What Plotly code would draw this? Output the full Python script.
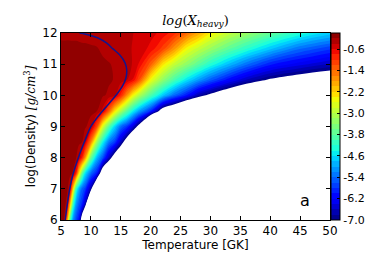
import plotly.graph_objects as go

# ---------------- data ----------------
temperature = [5, 5.5, 6, 6.5, 7, 7.5, 8, 8.5, 9, 10, 11, 12, 13, 14, 15, 16, 17, 18,
               20, 22, 24, 26, 28, 30, 33, 36, 40, 45, 50]
log_density = [6.0, 6.5, 7.0, 7.5, 8.0, 8.5, 9.0, 9.5, 10.0, 10.5, 11.0, 11.5, 12.0]

row_6_0 = [-0.02, -0.18, -1.6, -3.91, -5.11, -5.66, -6.1, -7.6, -9.1,
           -12, -12, -12, -12, -12, -12, -12, -12, -12, -12, -12, -12, -12, -12, -12, -12, -12, -12, -12, -12]
row_6_5 = [-0.02, -0.12, -0.28, -1.95, -4.04, -5.05, -5.54, -5.89, -6.61,
           -9.19, -11.75, -12, -12, -12, -12, -12, -12, -12, -12, -12, -12, -12, -12, -12, -12, -12, -12, -12, -12]
row_7_0 = [-0.02, -0.09, -0.15, -0.35, -2.13, -4.07, -4.91, -5.41, -5.7,
           -6.78, -9.03, -11.28, -12, -12, -12, -12, -12, -12, -12, -12, -12, -12, -12, -12, -12, -12, -12, -12, -12]
row_7_5 = [-0.02, -0.07, -0.11, -0.16, -0.21, -0.81, -2.26, -3.59, -4.5,
           -5.41, -5.99, -7.9, -8.6, -12, -12, -12, -12, -12, -12, -12, -12, -12, -12, -12, -12, -12, -12, -12, -12]
row_8_0 = [-0.02, -0.05, -0.08, -0.12, -0.15, -0.18, -0.33, -0.81, -1.64,
           -3.65, -4.85, -5.59, -6.6, -7.54, -8.27, -10.0, -12, -12, -12, -12, -12, -12, -12, -12, -12, -12, -12, -12, -12]
row_8_5 = [-0.02, -0.04, -0.07, -0.09, -0.12, -0.14, -0.17, -0.19, -0.35,
           -1.56, -3.22, -4.41, -5.31, -5.74, -6.61, -7.49, -8.52, -10.9, -12, -12, -12, -12, -12, -12, -12, -12, -12, -12, -12]
row_9_0 = [-0.02, -0.04, -0.06, -0.08, -0.1, -0.11, -0.13, -0.15, -0.17,
           -0.28, -1.15, -2.71, -3.77, -4.65, -5.38, -5.78, -6.41, -7.25, -10.25, -12, -12, -12, -12, -12, -12, -12, -12, -12, -12]
row_9_5 = [-0.02, -0.03, -0.05, -0.06, -0.08, -0.09, -0.11, -0.12, -0.13,
           -0.16, -0.19, -0.47, -1.32, -2.32, -3.08, -3.76, -4.41, -4.96, -5.86, -7.5, -8.13, -9.1, -9.34, -12, -12, -12, -12, -12, -12]
row_10_0 = [-0.02, -0.03, -0.04, -0.06, -0.07, -0.08, -0.09, -0.1, -0.11,
            -0.14, -0.16, -0.18, -0.23, -0.36, -0.87, -1.67, -2.45, -3.01, -3.91, -4.71, -5.44, -6.01, -6.74, -7.17, -7.71, -8.11, -10.0, -11.0, -12.0]
row_10_5 = [-0.02, -0.03, -0.04, -0.05, -0.06, -0.07, -0.08, -0.09, -0.1,
            -0.12, -0.14, -0.16, -0.18, -0.21, -0.28, -0.37, -0.61, -1.14, -2.53, -3.31, -3.95, -4.53, -5.04, -5.5, -6.1, -6.61, -7.07, -7.38, -7.57]
row_11_0 = [-0.03, -0.04, -0.05, -0.06, -0.07, -0.08, -0.09, -0.1, -0.11,
            -0.13, -0.15, -0.17, -0.19, -0.22, -0.28, -0.34, -0.41, -0.61, -1.31, -2.32, -2.91, -3.33, -3.78, -4.24, -4.81, -5.35, -5.95, -6.32, -6.62]
row_11_5 = [-0.12, -0.13, -0.13, -0.14, -0.15, -0.15, -0.16, -0.17, -0.17,
            -0.18, -0.19, -0.23, -0.26, -0.3, -0.33, -0.36, -0.41, -0.47, -0.66, -1.07, -1.75, -2.49, -2.89, -3.24, -3.73, -4.18, -4.75, -5.38, -5.75]
row_12_0 = [-0.27, -0.265, -0.26, -0.255, -0.25, -0.25, -0.25, -0.25, -0.255,
            -0.26, -0.27, -0.28, -0.3, -0.32, -0.345, -0.37, -0.395, -0.44, -0.53, -0.67, -0.93, -1.38, -1.88, -2.41, -2.88, -3.25, -3.72, -4.26, -4.7]

log_x_heavy = [row_6_0, row_6_5, row_7_0, row_7_5, row_8_0, row_8_5, row_9_0, row_9_5,
               row_10_0, row_10_5, row_11_0, row_11_5, row_12_0]

# blue boundary curve
curve_temperature = [5.7, 6.05, 6.45, 7.05, 7.9, 8.9, 10.0, 11.7, 14.2, 15.3, 15.85, 16.0,
                     15.7, 14.8, 13.7, 12.6, 11.2, 9.8, 8.1]
curve_density = [6.0, 6.5, 7.0, 7.5, 8.0, 8.5, 9.0, 9.44, 10.0, 10.3, 10.55, 10.8,
                 11.05, 11.3, 11.49, 11.68, 11.84, 11.93, 12.0]

level_start, level_end, level_step = -7.0, 0.0, 0.2
colorbar_ticks = [-7.0, -6.2, -5.4, -4.6, -3.8, -3.0, -2.2, -1.4, -0.6]
x_ticks = [5, 10, 15, 20, 25, 30, 35, 40, 45, 50]
y_ticks = [6, 7, 8, 9, 10, 11, 12]

# ---------------- matplotlib "jet" colormap ----------------
_jet = {
    'r': [(0, 0), (0.35, 0), (0.66, 1), (0.89, 1), (1, 0.5)],
    'g': [(0, 0), (0.125, 0), (0.375, 1), (0.64, 1), (0.91, 0), (1, 0)],
    'b': [(0, 0.5), (0.11, 1), (0.34, 1), (0.65, 0), (1, 0)],
}


def _seg(pts, t):
    for (x0, y0), (x1, y1) in zip(pts[:-1], pts[1:]):
        if x0 <= t <= x1:
            return y0 + (y1 - y0) * (t - x0) / (x1 - x0)
    return pts[-1][1]


def jet(t):
    r, g, b = (_seg(_jet[c], t) for c in 'rgb')
    return 'rgb(%d,%d,%d)' % (round(r * 255), round(g * 255), round(b * 255))


n_bands = int(round((level_end - level_start) / level_step))  # 35
n_levels = n_bands + 1
breaks = [0, 0.11, 0.125, 0.34, 0.35, 0.375, 0.64, 0.65, 0.66, 0.89, 0.91, 1]
# contour fill scale: bands coloured like matplotlib contourf, below -7 white
contour_scale = [[0, 'white'], [0.5 / n_levels - 0.0004, 'white']]
for t in breaks:
    contour_scale.append([(n_bands * t + 0.5) / n_levels, jet(t)])
contour_scale.append([1, jet(1)])

# stepped scale for the colour bar
bar_scale = []
for k in range(n_bands):
    c = jet((k + 0.5) / n_bands)
    bar_scale.append([k / n_bands, c])
    bar_scale.append([(k + 1) / n_bands, c])

fig = go.Figure()
fig.add_trace(go.Contour(
    x=temperature, y=log_density, z=log_x_heavy,
    autocontour=False,
    contours=dict(start=level_start, end=level_end, size=level_step,
                  coloring='fill', showlines=False),
    line=dict(width=0, smoothing=1),
    colorscale=contour_scale, showscale=False, hoverinfo='skip'))

fig.add_trace(go.Scatter(
    x=curve_temperature, y=curve_density, mode='lines',
    line=dict(color='#14148c', width=1.5, shape='spline'),
    showlegend=False, hoverinfo='skip'))

fig.add_trace(go.Scatter(
    x=[None], y=[None], mode='markers', showlegend=False, hoverinfo='skip',
    marker=dict(color=[level_start], cmin=level_start, cmax=level_end,
                colorscale=bar_scale, showscale=True,
                colorbar=dict(x=1 + 1 / 269, xanchor='left', xpad=0, ypad=0,
                              y=0.5, yanchor='middle', len=1, lenmode='fraction',
                              thickness=9, outlinewidth=1, outlinecolor='black',
                              ticks='inside', ticklen=3, tickcolor='black',
                              tickvals=colorbar_ticks,
                              ticktext=['%.1f' % v for v in colorbar_ticks],
                              tickfont=dict(family='DejaVu Sans', size=11, color='black')))))

axis_common = dict(showline=True, linecolor='black', linewidth=1, mirror='ticks',
                   ticks='inside', ticklen=4, tickcolor='black', showgrid=False,
                   zeroline=False, tickfont=dict(family='DejaVu Sans', size=12, color='black'))

fig.update_layout(
    width=374, height=253,
    margin=dict(l=53, r=52, t=25, b=29),
    paper_bgcolor='white', plot_bgcolor='white',
    title=dict(text='<i>log</i>(<i>X</i><sub><i>heavy</i></sub>)',
               x=0.5, xref='paper', y=1 - 12 / 253, yref='container', yanchor='middle',
               font=dict(family='DejaVu Serif', size=13, color='black')),
    xaxis=dict(range=[5, 50], tickvals=x_ticks,
               title=dict(text='Temperature [GK]', standoff=2,
                          font=dict(family='DejaVu Sans', size=12, color='black')),
               **axis_common),
    yaxis=dict(range=[6, 12], tickvals=y_ticks,
               title=dict(text='log(Density) <span style="font-family:DejaVu Serif">'
                               '<i>[g/cm</i><sup>3</sup><i>]</i></span>',
                          standoff=4,
                          font=dict(family='DejaVu Sans', size=12, color='black')),
               **axis_common),
    annotations=[dict(x=45.75, y=6.63, xref='x', yref='y', text='a', showarrow=False,
                      font=dict(family='DejaVu Sans', size=16, color='black'))],
    showlegend=False,
)

fig.write_html('out.html')
